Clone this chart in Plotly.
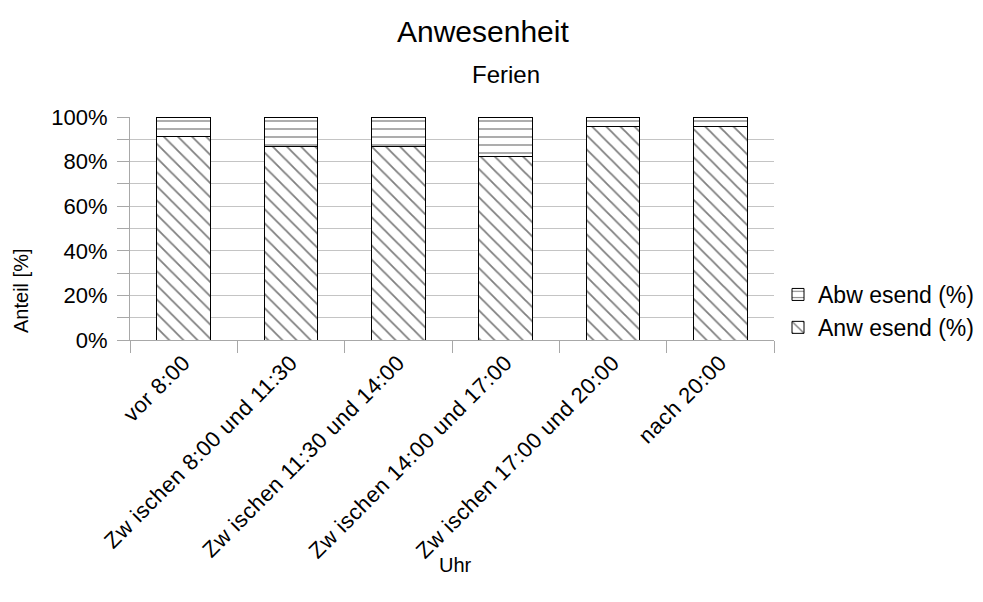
import plotly.graph_objects as go

categories = ["vor 8:00", "Zw ischen 8:00 und 11:30", "Zw ischen 11:30 und 14:00",
              "Zw ischen 14:00 und 17:00", "Zw ischen 17:00 und 20:00", "nach 20:00"]
anwesend = [0.912, 0.867, 0.867, 0.825, 0.957, 0.957]
abwesend = [round(1 - v, 3) for v in anwesend]
y_tickvals = [i / 10 for i in range(11)]
y_ticktext = [f"{int(v*100)}%" if i % 2 == 0 else "" for i, v in enumerate(y_tickvals)]

font = "Liberation Sans, Arial, sans-serif"

W, H = 983, 602
L, R, T, B = 130, 209, 117, 262
PW, PH = W - L - R, H - T - B


def px_x(x):
    return (x - L) / PW


def px_y(y):
    return (H - B - y) / PH


fig = go.Figure()
fig.add_trace(go.Bar(
    x=categories, y=anwesend, name="Anw esend (%)", legendrank=2,
    marker=dict(color="white", line=dict(color="black", width=1),
                pattern=dict(shape="\\", fgcolor="black", bgcolor="white", size=10, solidity=0.18)),
))
fig.add_trace(go.Bar(
    x=categories, y=abwesend, name="Abw esend (%)", legendrank=1,
    marker=dict(color="white", line=dict(color="black", width=1),
                pattern=dict(shape="-", fgcolor="black", bgcolor="white", size=8, solidity=0.16)),
))

fig.update_layout(
    barmode="stack",
    bargap=0.5,
    width=W, height=H,
    margin=dict(l=L, r=R, t=T, b=B, autoexpand=False),
    paper_bgcolor="white", plot_bgcolor="white",
    font=dict(family=font, size=20, color="black"),
    showlegend=True,
    legend=dict(x=px_x(778), y=px_y(273), xanchor="left", yanchor="top",
                traceorder="normal",
                font=dict(size=23), bgcolor="rgba(0,0,0,0)", itemwidth=30),
    xaxis=dict(
        tickangle=-45, ticks="outside", tickson="boundaries", ticklen=12,
        tickcolor="#a8a8a8", showline=True, linecolor="#a8a8a8", showgrid=False,
        tickfont=dict(size=22), automargin=False,
    ),
    yaxis=dict(
        range=[0, 1], tickvals=y_tickvals, ticktext=y_ticktext,
        ticks="outside", ticklen=12, tickcolor="#a8a8a8", ticklabelstandoff=5,
        showline=True, linecolor="#a8a8a8", showgrid=True, gridcolor="#c4c4c4",
        tickfont=dict(size=22), zeroline=False, automargin=False,
    ),
    annotations=[
        dict(text="Anwesenheit", x=px_x(483), y=px_y(31), xref="paper", yref="paper",
             showarrow=False, font=dict(size=30), xanchor="center", yanchor="middle"),
        dict(text="Ferien", x=px_x(506), y=px_y(75), xref="paper", yref="paper",
             showarrow=False, font=dict(size=24), xanchor="center", yanchor="middle"),
        dict(text="Anteil [%]", textangle=-90, x=px_x(21), y=px_y(291), xref="paper",
             yref="paper", showarrow=False, font=dict(size=20), xanchor="center",
             yanchor="middle"),
        dict(text="Uhr", x=px_x(455), y=px_y(565), xref="paper", yref="paper",
             showarrow=False, font=dict(size=20), xanchor="center", yanchor="middle"),
    ],
)

post = (
    "document.body.style.margin='0px';"
    "document.querySelectorAll('.xtick text').forEach(function(t){t.style.letterSpacing='0.5px';});"
)
fig.write_html("out.html", post_script=post, config={"displayModeBar": False})
